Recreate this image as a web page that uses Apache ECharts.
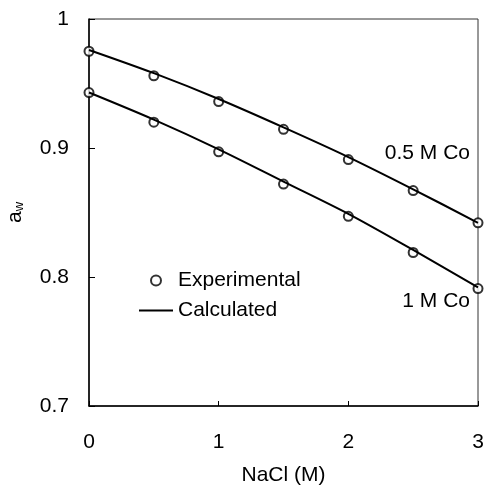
<!DOCTYPE html>
<html>
<head>
<meta charset="utf-8">
<script src="https://cdn.jsdelivr.net/npm/echarts@6/dist/echarts.min.js"></script>
<style>
  html, body { margin: 0; padding: 0; background: #fff; }
  #chart { width: 484px; height: 486px; }
</style>
</head>
<body>
<div id="chart"></div>
<script>
// NaCl concentration (M)
var nacl = [0, 0.5, 1, 1.5, 2, 2.5, 3];
// experimental water activity
var exp05 = [0.975, 0.956, 0.936, 0.9145, 0.891, 0.867, 0.842];
var exp1 = [0.943, 0.920, 0.897, 0.872, 0.847, 0.819, 0.791];
// calculated curves
var calc05 = [0.976, 0.958, 0.938, 0.916, 0.893, 0.868, 0.842];
var calc1 = [0.943, 0.922, 0.899, 0.874, 0.849, 0.821, 0.792];
var yTicks = [0.7, 0.8, 0.9, 1];

function pairs(xs, ys) {
  return xs.map(function (x, i) { return [x, ys[i]]; });
}

var chart = echarts.init(document.getElementById('chart'));
var font = 'Liberation Sans, Arial, sans-serif';
var fs = 21;

option = {
  animation: false,
  textStyle: { fontFamily: font },
  grid: {
    left: 89, top: 19, right: 6, bottom: 80,
    outerBoundsMode: 'none',
    show: true, borderColor: '#333', borderWidth: 1
  },
  legend: {
    orient: 'vertical',
    left: 138, top: 270, padding: 0,
    itemWidth: 34, itemHeight: 10, itemGap: 9,
    textStyle: { fontSize: fs, color: '#000', fontFamily: font },
    data: [
      { name: 'Experimental', icon: 'emptyCircle' },
      { name: 'Calculated', itemStyle: { opacity: 0 } }
    ]
  },
  xAxis: {
    type: 'value', min: 0, max: 3, interval: 1,
    name: 'NaCl (M)', nameLocation: 'middle', nameGap: 59,
    nameTextStyle: { fontSize: fs, color: '#000' },
    axisLine: { onZero: false, lineStyle: { color: '#000', width: 1.5 } },
    axisTick: { inside: true, length: 5, lineStyle: { color: '#000' } },
    axisLabel: { fontSize: fs, color: '#000', margin: 26 },
    splitLine: { show: false }
  },
  yAxis: {
    type: 'value', min: 0.7, max: 1, interval: 0.1,
    name: '{a|a}{s|w}', nameLocation: 'middle', nameGap: 63, nameRotate: 90,
    nameTextStyle: {
      rich: {
        a: { fontSize: fs, color: '#000', fontFamily: font },
        s: { fontSize: 13, color: '#000', fontFamily: font, padding: [8, 0, 0, 0] }
      }
    },
    axisLine: { onZero: false, lineStyle: { color: '#000', width: 1.5 } },
    axisTick: { inside: true, length: 6, lineStyle: { color: '#000' } },
    axisLabel: {
      fontSize: fs, color: '#000', margin: 20,
      formatter: function (v) {
        var t = yTicks.find(function (k) { return Math.abs(k - v) < 1e-6; });
        return t === undefined ? '' : String(t);
      }
    },
    splitLine: { show: false }
  },
  series: [
    {
      name: 'Experimental', type: 'scatter', data: pairs(nacl, exp05),
      symbol: 'emptyCircle', symbolSize: 9,
      itemStyle: { color: '#000', borderColor: '#000', borderWidth: 1 }
    },
    {
      name: 'Experimental', type: 'scatter', data: pairs(nacl, exp1),
      symbol: 'emptyCircle', symbolSize: 9,
      itemStyle: { color: '#000', borderColor: '#000', borderWidth: 1 }
    },
    {
      name: 'Calculated', type: 'line', data: pairs(nacl, calc05),
      smooth: 0.3, symbol: 'none',
      lineStyle: { color: '#000', width: 2 }, itemStyle: { color: '#000' }
    },
    {
      name: 'Calculated', type: 'line', data: pairs(nacl, calc1),
      smooth: 0.3, symbol: 'none',
      lineStyle: { color: '#000', width: 2 }, itemStyle: { color: '#000' }
    }
  ],
  graphic: [
    {
      type: 'text', right: 14, top: 143,
      style: { text: '0.5 M Co', fontSize: fs, fill: '#000', fontFamily: font }
    },
    {
      type: 'text', right: 14, top: 291,
      style: { text: '1 M Co', fontSize: fs, fill: '#000', fontFamily: font }
    }
  ]
};

chart.setOption(option);
</script>
</body>
</html>
